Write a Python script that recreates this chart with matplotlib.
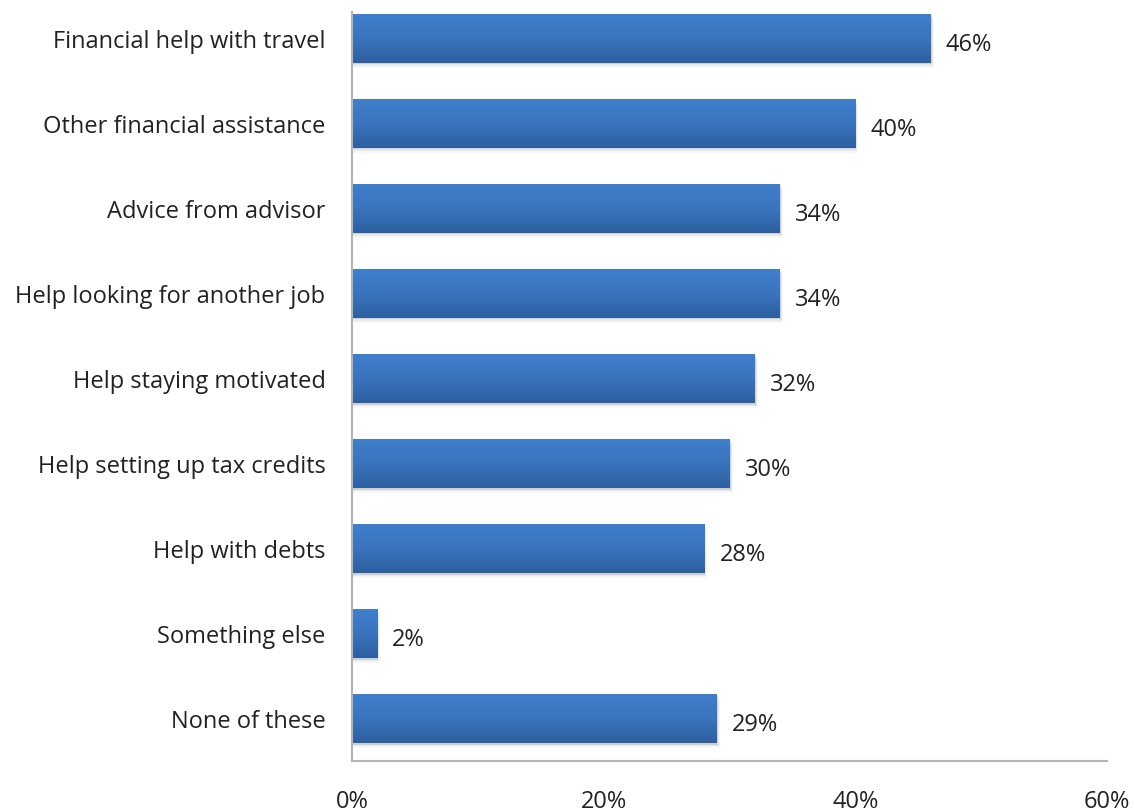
import numpy as np
import matplotlib
matplotlib.use('Agg')
import matplotlib.pyplot as plt
from matplotlib.colors import LinearSegmentedColormap
from matplotlib.patches import Rectangle

categories = ['Financial help with travel', 'Other financial assistance',
              'Advice from advisor', 'Help looking for another job',
              'Help staying motivated', 'Help setting up tax credits',
              'Help with debts', 'Something else', 'None of these']
values = [46, 40, 34, 34, 32, 30, 28, 2, 29]
xticks = [0, 20, 40, 60]
xtick_labels = ['0%', '20%', '40%', '60%']

plt.rcParams['font.family'] = ['Open Sans', 'DejaVu Sans']
text_color = '#222222'

fig = plt.figure(figsize=(11.34, 8.12), dpi=100)
W, H = 1134, 812
ax = fig.add_axes([352 / W, 50 / H, (1107 - 352) / W, (762 - 13) / H])

bar_h = 0.576
grad = LinearSegmentedColormap.from_list('bar', ['#3f7fcc', '#3a74bd', '#2d5f9f'])
grad_img = np.linspace(0, 1, 256).reshape(-1, 1)

ypos = np.arange(len(categories))
for y, v in zip(ypos, values):
    # soft shadow under each bar
    for k, a in enumerate([0.10, 0.06, 0.03]):
        sh = Rectangle((0, y - bar_h / 2 + 0.02 * (k + 1)), v + 0.08 * (k + 1), bar_h,
                       facecolor='black', alpha=a, lw=0, zorder=1)
        ax.add_patch(sh)
    bar = ax.barh(y, v, height=bar_h, color='none', zorder=2)[0]
    im = ax.imshow(grad_img, cmap=grad, aspect='auto', zorder=3,
                   extent=[0, v, y + bar_h / 2, y - bar_h / 2], interpolation='bilinear')
    im.set_clip_path(bar)
    ax.text(v + 1.2, y + 0.03, f'{v}%', va='center_baseline', ha='left',
            fontsize=17, color=text_color)

ax.set_xlim(0, 60)
ax.set_ylim(len(categories) - 0.5, -bar_h / 2 - 0.02)
ax.set_xticks(xticks)
ax.set_xticklabels(xtick_labels, fontsize=17, color=text_color)
ax.set_yticks(ypos)
ax.set_yticklabels(categories, fontsize=17, color=text_color)
ax.tick_params(axis='x', length=0, pad=20)
ax.tick_params(axis='y', length=0, pad=19)
for s in ['top', 'right']:
    ax.spines[s].set_visible(False)
for s in ['left', 'bottom']:
    ax.spines[s].set_color('#b3b3b3')
    ax.spines[s].set_linewidth(1.5)
    ax.spines[s].set_zorder(5)

fig.savefig('out.png', dpi=100, facecolor='white')
